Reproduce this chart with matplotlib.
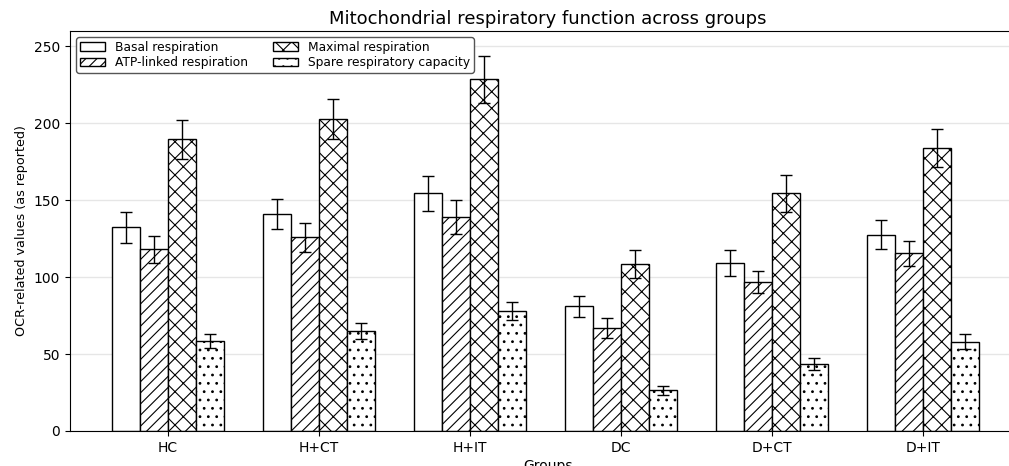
import matplotlib
matplotlib.use("Agg")
import matplotlib.pyplot as plt
import numpy as np

groups = ["HC", "H+CT", "H+IT", "DC", "D+CT", "D+IT"]
series_names = ["Basal respiration", "ATP-linked respiration",
                "Maximal respiration", "Spare respiratory capacity"]
basal = [132.5, 141, 154.5, 81, 109, 127.5]
basal_err = [10, 10, 11.5, 7, 8.5, 9.5]
atp = [118, 126, 139, 67, 97, 115.5]
atp_err = [9, 9.5, 11, 6.5, 7, 8]
maximal = [189.5, 203, 228.5, 108.5, 154.5, 184]
maximal_err = [12.5, 13, 15.5, 9, 12, 12.5]
spare = [58.5, 65, 78, 26.5, 43.5, 58]
spare_err = [4.5, 5, 6, 3, 4, 5]

values = [basal, atp, maximal, spare]
errors = [basal_err, atp_err, maximal_err, spare_err]
hatches = ["", "///", "xx", ".."]

plt.rcParams["hatch.linewidth"] = 0.8
fig = plt.figure(figsize=(10.09, 4.66), dpi=100)
ax = fig.add_axes([70/1009, 35/466, 955/1009, 400/466])

x = np.arange(len(groups))
w = 0.185
for i, (vals, errs, h, name) in enumerate(zip(values, errors, hatches, series_names)):
    ax.bar(x + (i - 1.5) * w, vals, w, yerr=errs, capsize=4,
           color="white", edgecolor="black", linewidth=1.0, hatch=h,
           label=name, error_kw=dict(elinewidth=1.0, capthick=1.0, ecolor="black"),
           zorder=2)

ax.set_xlim(-0.65, 5.675)
ax.set_ylim(0, 260)
ax.set_yticks([0, 50, 100, 150, 200, 250])
ax.set_xticks(x)
ax.set_xticklabels(groups)
ax.yaxis.grid(True, color="#e6e6e6", linewidth=1.0, zorder=0)
ax.set_axisbelow(True)
ax.tick_params(labelsize=10)
ax.set_title("Mitochondrial respiratory function across groups", fontsize=13, pad=5)
ax.set_ylabel("OCR-related values (as reported)", fontsize=9.2)
ax.set_xlabel("Groups", fontsize=10, labelpad=3)
ax.legend(loc="upper left", ncol=2, fontsize=8.8, frameon=True, fancybox=True,
          handlelength=2.1, columnspacing=2.0, borderpad=0.3, labelspacing=0.2,
          edgecolor="#555555", framealpha=1.0)

fig.savefig("out.png", dpi=100)
